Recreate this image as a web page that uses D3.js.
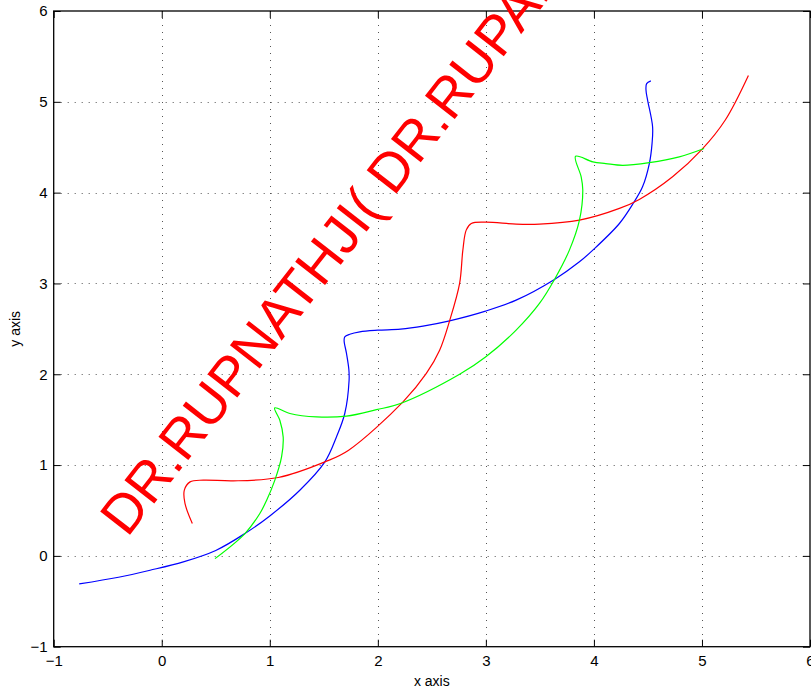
<!DOCTYPE html>
<html>
<head>
<meta charset="utf-8">
<script src="https://cdn.jsdelivr.net/npm/d3@7"></script>
<style>
  body { margin: 0; background: #fff; }
  svg { display: block; font-family: "Liberation Sans", Arial, sans-serif; }
</style>
</head>
<body>
<div id="chart"></div>
<script>
// ticks
var xTicks = [-1, 0, 1, 2, 3, 4, 5, 6];
var yTicks = [-1, 0, 1, 2, 3, 4, 5, 6];

// curves, [x, y]
var blueCurve = [
  [-0.764, -0.308], [-0.4, -0.235], [-0.108, -0.158], [0.2, -0.066], [0.5, 0.06],
  [0.77, 0.246], [1.0, 0.44], [1.278, 0.723], [1.51, 1.035], [1.617, 1.31],
  [1.694, 1.568], [1.734, 1.935], [1.732, 2.05], [1.71, 2.229], [1.688, 2.37],
  [1.694, 2.412], [1.74, 2.44], [1.833, 2.467], [2.0, 2.485], [2.21, 2.497],
  [2.418, 2.53], [2.664, 2.588], [2.997, 2.695], [3.28, 2.816], [3.635, 3.044],
  [3.866, 3.238], [3.99, 3.367], [4.236, 3.66], [4.367, 3.888], [4.45, 4.064],
  [4.513, 4.32], [4.538, 4.54], [4.543, 4.725], [4.497, 5.019], [4.482, 5.13],
  [4.488, 5.2], [4.527, 5.23]
];
var redCurve = [
  [0.283, 0.357], [0.215, 0.577], [0.209, 0.724], [0.262, 0.815], [0.385, 0.834],
  [0.662, 0.826], [1.078, 0.863], [1.51, 1.035], [1.73, 1.164], [2.233, 1.696],
  [2.449, 2.009], [2.572, 2.265], [2.664, 2.588], [2.757, 3.0], [2.787, 3.367],
  [2.818, 3.587], [2.865, 3.66], [3.0, 3.675], [3.28, 3.653], [3.496, 3.653],
  [3.866, 3.697], [4.236, 3.826], [4.42, 3.925], [4.728, 4.174], [5.0, 4.476],
  [5.216, 4.8], [5.43, 5.29]
];
var greenCurve = [
  [0.493, -0.03], [0.77, 0.246], [0.908, 0.467], [0.97, 0.61], [1.047, 0.834],
  [1.109, 1.09], [1.124, 1.31], [1.093, 1.494], [1.045, 1.63], [1.186, 1.568],
  [1.433, 1.53], [1.71, 1.539], [1.987, 1.61], [2.209, 1.678], [2.757, 2.0],
  [2.997, 2.19], [3.28, 2.486], [3.496, 2.78], [3.635, 3.044], [3.773, 3.367],
  [3.866, 3.697], [3.897, 4.03], [3.882, 4.174], [3.83, 4.40], [3.99, 4.339],
  [4.11, 4.32], [4.266, 4.30], [4.513, 4.33], [4.79, 4.394], [5.02, 4.486]
];

var series = [
  { name: 'blue', color: '#0000ff', points: blueCurve },
  { name: 'red', color: '#ff0000', points: redCurve },
  { name: 'green', color: '#00ff00', points: greenCurve }
];

var watermark = "DR.RUPNATHJI( DR.RUPAK NATH )";
var watermarkAt = [-0.32, 0.195];

const width = 811;
const height = 691;
const margin = { top: 11, right: 1, bottom: 44.3, left: 53.7 };

const svg = d3.select('#chart')
  .append('svg')
  .attr('width', width)
  .attr('height', height);

const x = d3.scaleLinear()
  .domain([-1, 6])
  .range([margin.left, width - margin.right]);

const y = d3.scaleLinear()
  .domain([-1, 6])
  .range([height - margin.bottom, margin.top]);

// dotted grid
const grid = svg.append('g')
  .attr('stroke', '#555')
  .attr('stroke-width', 1)
  .attr('stroke-dasharray', '1,6');

grid.selectAll('.vgrid')
  .data(xTicks.slice(1, -1))
  .join('line')
  .attr('x1', d => Math.round(x(d)) + 0.5)
  .attr('x2', d => Math.round(x(d)) + 0.5)
  .attr('y1', y(6))
  .attr('y2', y(-1));

grid.selectAll('.hgrid')
  .data(yTicks.slice(1, -1))
  .join('line')
  .attr('y1', d => Math.round(y(d)) + 0.5)
  .attr('y2', d => Math.round(y(d)) + 0.5)
  .attr('x1', x(-1))
  .attr('x2', x(6));

// curves
const line = d3.line()
  .x(d => x(d[0]))
  .y(d => y(d[1]))
  .curve(d3.curveCatmullRom.alpha(0.5));

svg.append('g')
  .selectAll('path')
  .data(series)
  .join('path')
  .attr('fill', 'none')
  .attr('stroke', d => d.color)
  .attr('stroke-width', 1.2)
  .attr('d', d => line(d.points));

// axes, ticks pointing inwards
var fmt = d3.format('d');

function xAxis(g) {
  g.attr('transform', `translate(0,${y(-1)})`)
    .call(d3.axisBottom(x).tickValues(xTicks).tickFormat(fmt).tickSize(-7).tickSizeOuter(0).tickPadding(9))
    .attr('font-size', '15px')
    .attr('font-family', '"Liberation Sans", Arial, sans-serif');
}

function yAxis(g) {
  g.attr('transform', `translate(${x(-1)},0)`)
    .call(d3.axisLeft(y).tickValues(yTicks).tickFormat(fmt).tickSize(-7).tickSizeOuter(0).tickPadding(6))
    .attr('font-size', '15px')
    .attr('font-family', '"Liberation Sans", Arial, sans-serif');
}

function topAxis(g) {
  g.attr('transform', `translate(0,${y(6)})`)
    .call(d3.axisTop(x).tickValues(xTicks).tickSize(-7).tickSizeOuter(0).tickFormat(''));
}

function rightAxis(g) {
  g.attr('transform', `translate(${x(6)},0)`)
    .call(d3.axisRight(y).tickValues(yTicks).tickSize(-7).tickSizeOuter(0).tickFormat(''));
}

svg.append('g').call(xAxis);
svg.append('g').call(yAxis);
svg.append('g').call(topAxis);
svg.append('g').call(rightAxis);
svg.selectAll('.domain').remove();
svg.selectAll('.tick line').attr('stroke', '#000');
svg.selectAll('.tick text').attr('fill', '#000');

svg.append('rect')
  .attr('x', x(-1))
  .attr('y', y(6))
  .attr('width', x(6) - x(-1))
  .attr('height', y(-1) - y(6))
  .attr('fill', 'none')
  .attr('stroke', '#000')
  .attr('stroke-width', 1.3);

// axis labels
svg.append('text')
  .attr('x', (x(-1) + x(6)) / 2)
  .attr('y', 686)
  .attr('text-anchor', 'middle')
  .attr('font-size', '14px')
  .text('x axis');

svg.append('text')
  .attr('transform', `translate(20,${(y(-1) + y(6)) / 2}) rotate(-90)`)
  .attr('text-anchor', 'middle')
  .attr('font-size', '14px')
  .text('y axis');

// red watermark text
svg.append('text')
  .attr('transform', `translate(${x(watermarkAt[0])},${y(watermarkAt[1])}) rotate(-52)`)
  .attr('fill', '#ff0000')
  .attr('font-size', '55px')
  .text(watermark);
</script>
</body>
</html>
